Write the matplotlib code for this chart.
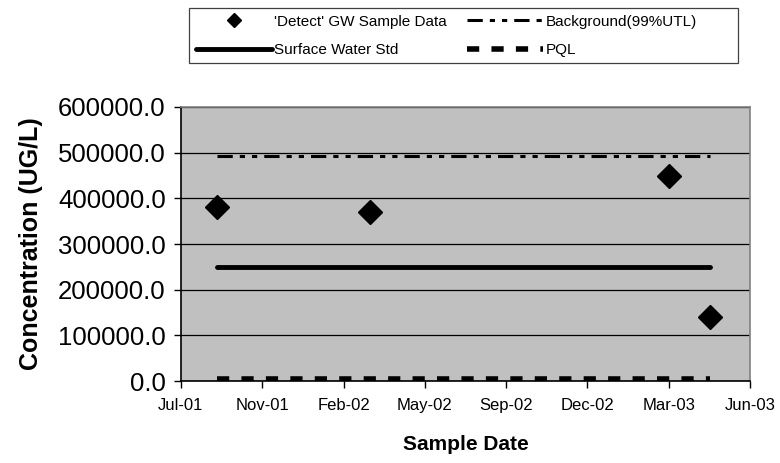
import datetime as dt
import matplotlib
matplotlib.use("Agg")
import matplotlib.pyplot as plt
import matplotlib.dates as mdates
from matplotlib.patches import Rectangle
from matplotlib.ticker import FormatStrFormatter

plt.rcParams['font.family'] = ['Liberation Sans', 'DejaVu Sans']

# sample dates and detected concentrations (UG/L)
sample_dates = [dt.date(2001, 9, 10), dt.date(2002, 3, 17),
                dt.date(2003, 3, 21), dt.date(2003, 5, 10)]
detect_values = [380000, 371000, 449000, 141000]

# screening levels (constant at every sample date)
background_utl = [492000, 492000, 492000, 492000]
surface_water_std = [250000, 250000, 250000, 250000]
pql = [5000, 5000, 5000, 5000]

fig = plt.figure(figsize=(7.8, 4.63), dpi=100)
ax = fig.add_axes([0.232, 0.177, 0.7295, 0.592])
ax.set_facecolor('#C0C0C0')

ax.plot(sample_dates, background_utl, color='black', lw=2.2,
        dashes=(5, 2.3, 1.7, 2.3, 1.7, 2.3), label='Background(99%UTL)', zorder=3)
ax.plot(sample_dates, surface_water_std, color='black', lw=3.5,
        solid_capstyle='round', label='Surface Water Std', zorder=3)
ax.plot(sample_dates, pql, color='black', lw=4, dashes=(2.2, 2.2),
        label='PQL', zorder=3)
ax.plot(sample_dates, detect_values, linestyle='none', marker='D',
        markersize=12, color='black', label="'Detect' GW Sample Data", zorder=4)

# Excel-style date axis: min 28-Jul-01, major unit 100 days
x0 = dt.date(2001, 7, 28)
xticks = [x0 + dt.timedelta(days=100 * k) for k in range(8)]
ax.set_xlim(xticks[0], xticks[-1])
ax.set_xticks(xticks)
ax.xaxis.set_major_formatter(mdates.DateFormatter('%b-%y'))

ax.set_ylim(0, 600000)
ax.set_yticks(range(0, 600001, 100000))
ax.yaxis.set_major_formatter(FormatStrFormatter('%.1f'))
ax.yaxis.grid(True, color='black', lw=0.9)
ax.set_axisbelow(True)

for s in ax.spines.values():
    s.set_color('#808080')
    s.set_linewidth(1.2)
ax.spines['left'].set_color('black')
ax.spines['bottom'].set_color('black')

ax.tick_params(axis='y', labelsize=18.5, length=5, width=1, pad=6)
ax.tick_params(axis='x', labelsize=12, length=5, width=1, pad=7)

ax.set_ylabel('Concentration (UG/L)', fontsize=18, fontweight='bold', labelpad=11)
ax.set_xlabel('Sample Date', fontsize=15, fontweight='bold', labelpad=16)

h, l = ax.get_legend_handles_labels()
order = [3, 1, 0, 2]
leg = fig.legend([h[i] for i in order], [l[i] for i in order],
                 loc='upper left', bbox_to_anchor=(0.242, 0.983), ncol=2,
                 fontsize=11, frameon=False,
                 handlelength=5.0, handletextpad=0.15, columnspacing=1.3,
                 borderpad=0.45, labelspacing=0.95, markerscale=0.6,
                 borderaxespad=0)

# legend box, wider than the entries as in the original
fig.patches.append(Rectangle((0.2423, 0.864), 0.7038, 0.119,
                             transform=fig.transFigure, fill=False,
                             edgecolor='#404040', lw=0.9))

fig.savefig('out.png', dpi=100)
